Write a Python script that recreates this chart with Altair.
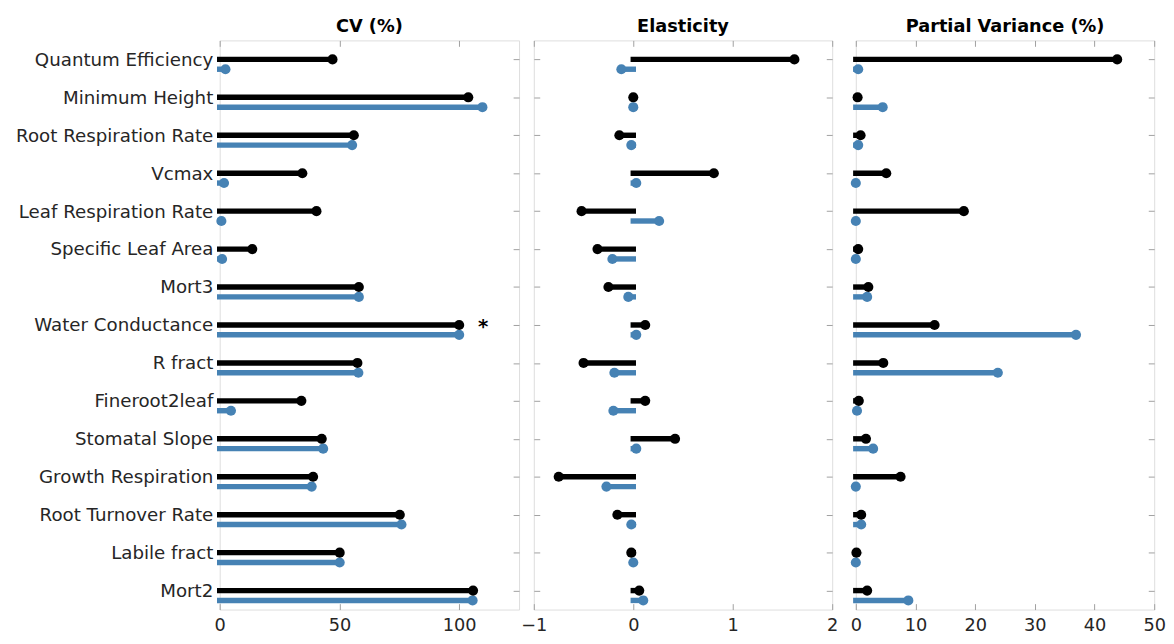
import altair as alt
import pandas as pd

params = ["Quantum Efficiency", "Minimum Height", "Root Respiration Rate", "Vcmax",
          "Leaf Respiration Rate", "Specific Leaf Area", "Mort3", "Water Conductance",
          "R fract", "Fineroot2leaf", "Stomatal Slope", "Growth Respiration",
          "Root Turnover Rate", "Labile fract", "Mort2"]

cv_black = [47.1, 103.8, 56.0, 34.5, 40.4, 13.6, 58.1, 100.0, 57.5, 34.1, 42.6, 39.0, 75.2, 50.1, 105.8]
cv_blue = [2.4, 109.7, 55.3, 1.8, 0.7, 1.0, 58.1, 100.0, 57.9, 4.7, 43.2, 38.4, 75.9, 50.1, 105.6]
el_black = [1.62, 0.0, -0.14, 0.81, -0.52, -0.36, -0.25, 0.12, -0.50, 0.12, 0.42, -0.75, -0.16, -0.02, 0.06]
el_blue = [-0.12, 0.0, -0.02, 0.03, 0.26, -0.21, -0.05, 0.03, -0.19, -0.20, 0.03, -0.27, -0.02, 0.0, 0.10]
pv_black = [43.8, 0.3, 0.8, 5.1, 18.1, 0.4, 2.1, 13.2, 4.6, 0.5, 1.7, 7.5, 0.9, 0.1, 1.9]
pv_blue = [0.4, 4.5, 0.4, 0.0, 0.0, 0.0, 1.9, 36.9, 23.8, 0.2, 2.9, 0.0, 0.9, 0.0, 8.8]

star_param = "Water Conductance"
star_value = 110

BLACK = "#000000"
BLUE = "#4682b4"
GREY = "#a0a0a0"
TEXT = "#262626"
FONT = "DejaVu Sans"

rows = []
for i, p in enumerate(params):
    rows.append({"param": p, "series": "black", "cv": cv_black[i], "el": el_black[i], "pv": pv_black[i]})
    rows.append({"param": p, "series": "blue", "cv": cv_blue[i], "el": el_blue[i], "pv": pv_blue[i]})
df = pd.DataFrame(rows)

W = [304, 303, 303]
H = 578
BLUE_OFF = 10
TICK = 6


def tick_axis(orient, values=None):
    kw = dict(orient=orient, offset=-TICK, tickSize=TICK, labels=False, domain=False,
              ticks=True, tickColor=GREY, grid=False, title=None, minExtent=0, maxExtent=0)
    if values is not None:
        kw["values"] = values
    return alt.Axis(**kw)


def panel(field, domain, tick_values, title, width, show_labels):
    xs = alt.Scale(domain=domain, nice=False, zero=False)
    ys = alt.Scale(type="point", domain=params, padding=0.5)
    base = alt.Chart(df)

    label_x = alt.Axis(orient="bottom", values=tick_values, ticks=False, domain=False, grid=False,
                       title=None, labelFontSize=18, labelFont=FONT, labelColor=TEXT,
                       labelPadding=7, labelFlush=False, labelOverlap=False)
    if show_labels:
        label_y = alt.Axis(orient="left", ticks=False, domain=False, grid=False, title=None,
                           labelFontSize=18.5, labelFont=FONT, labelColor=TEXT, labelPadding=7,
                           labelLimit=400)
    else:
        label_y = None

    black_rule = base.transform_filter(alt.datum.series == "black").mark_rule(
        color=BLACK, strokeWidth=5.5, strokeCap="square").encode(
        x=alt.X(f"{field}:Q", scale=xs, axis=label_x),
        x2=alt.datum(0),
        y=alt.Y("param:N", scale=ys, axis=label_y, sort=params),
    )
    blue_rule = base.transform_filter(alt.datum.series == "blue").mark_rule(
        color=BLUE, strokeWidth=5.5, strokeCap="square", yOffset=BLUE_OFF).encode(
        x=alt.X(f"{field}:Q", scale=xs, axis=tick_axis("bottom", tick_values)),
        x2=alt.datum(0),
        y=alt.Y("param:N", scale=ys, axis=tick_axis("left"), sort=params),
    )
    black_pt = base.transform_filter(alt.datum.series == "black").mark_circle(
        color=BLACK, size=105, opacity=1).encode(
        x=alt.X(f"{field}:Q", scale=xs, axis=tick_axis("top", tick_values)),
        y=alt.Y("param:N", scale=ys, axis=tick_axis("right"), sort=params),
    )
    blue_pt = base.transform_filter(alt.datum.series == "blue").mark_circle(
        color=BLUE, size=105, opacity=1, yOffset=BLUE_OFF).encode(
        x=alt.X(f"{field}:Q", scale=xs, axis=None),
        y=alt.Y("param:N", scale=ys, axis=None, sort=params),
    )
    layers = [black_rule, blue_rule, blue_pt, black_pt]
    if show_labels:
        star = alt.Chart(pd.DataFrame({"param": [star_param], "x": [star_value], "t": ["*"]})).mark_text(
            fontSize=20, font=FONT, fontWeight="bold", color=BLACK, baseline="middle", dy=2).encode(
            x=alt.X("x:Q", scale=xs, axis=None),
            y=alt.Y("param:N", scale=ys, axis=None, sort=params),
            text="t:N",
        )
        layers.append(star)
    return alt.layer(*layers).resolve_axis(x="independent", y="independent").properties(
        width=width, height=H,
        title=alt.TitleParams(title, fontSize=18, font=FONT, fontWeight="bold", color=BLACK,
                              anchor="middle", offset=-10, baseline="alphabetic"),
    )


p1 = panel("cv", [0, 125], [0, 50, 100], "CV (%)", W[0], True)
p2 = panel("el", [-1, 2], [-1, 0, 1, 2], "Elasticity", W[1], False)
p3 = panel("pv", [0, 50], [0, 10, 20, 30, 40, 50], "Partial Variance (%)", W[2], False)

chart = alt.hconcat(
    alt.hconcat(p1, p2, spacing=15, bounds="flush"),
    p3, spacing=10,
).properties(
    padding={"left": 7, "top": 5, "right": 0, "bottom": 0},
).configure_view(stroke=GREY, strokeWidth=1).configure(background="white")

chart.save("out.html", embed_options={"renderer": "svg", "actions": False})
